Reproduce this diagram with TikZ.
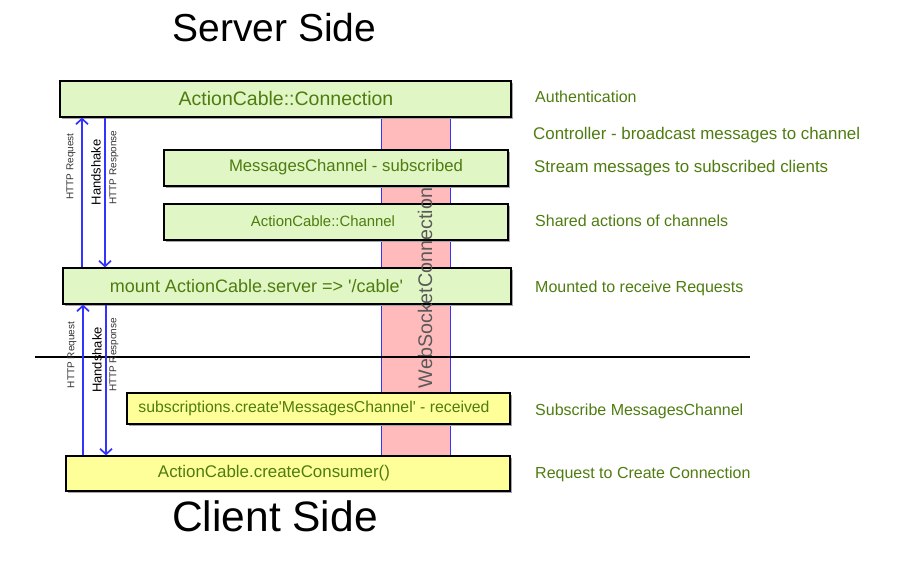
\documentclass[tikz,border=0pt]{standalone}
\usepackage{fontspec}
\setmainfont{Liberation Sans}
\usetikzlibrary{arrows.meta,shadows}
\definecolor{srvgreen}{HTML}{E1F6C5}
\definecolor{cliyellow}{HTML}{FFFF99}
\definecolor{wspink}{HTML}{FFBBBB}
\definecolor{flowblue}{HTML}{3333FF}
\definecolor{txtgreen}{HTML}{4E7C10}
\tikzset{
  box/.style={draw=black, line width=1.2pt, inner sep=0pt, minimum height=36pt,
    general shadow={fill=black!35, shadow xshift=1.5pt, shadow yshift=-1.5pt}},
  srvbox/.style={box, fill=srvgreen},
  clibox/.style={box, fill=cliyellow},
  boxtext/.style={text=txtgreen, inner sep=0pt},
  note/.style={text=txtgreen, anchor=base west, inner sep=0pt, font=\fontsize{16}{18}\selectfont},
  flow/.style={draw=flowblue, line width=1.7pt, -{Straight Barb[length=5.5pt,width=12pt]}},
  flowlabel/.style={rotate=90, inner sep=0pt, text=black!80},
  title/.style={anchor=base, font=\fontsize{39}{42}\selectfont}
}
\begin{document}
\begin{tikzpicture}[x=1pt,y=-1pt]
\useasboundingbox (0,0) rectangle (903,562);
% websocket bar
\node[fill=wspink, minimum width=68pt, minimum height=339pt, inner sep=0pt] (wsbar) at (416,286.5){};
\draw[flowblue, line width=0.8pt] (wsbar.north west) -- (wsbar.south west);
\draw[flowblue, line width=0.8pt] (wsbar.north east) -- (wsbar.south east);
% server side
\node[title] (server) at (274.5,41){Server Side};
\node[srvbox, minimum width=451pt] (conn) at (285.5,99){};
\node[boxtext, font=\fontsize{19.5}{22}\selectfont] (conntxt) at (286,99){ActionCable::Connection};
\node[srvbox, minimum width=344pt] (msgch) at (336,168){};
\node[boxtext, font=\fontsize{16.7}{19}\selectfont] (msgchtxt) at (346,167){MessagesChannel - subscribed};
\node[srvbox, minimum width=344pt] (chan) at (336,222){};
\node[boxtext, font=\fontsize{14.9}{17}\selectfont] (chantxt) at (323,221){ActionCable::Channel};
\node[srvbox, minimum width=448pt] (mount) at (287,286){};
\node[boxtext, font=\fontsize{18}{21}\selectfont] (mounttxt) at (256.5,286){mount ActionCable.server => \textquotesingle/cable\textquotesingle};
% client side
\node[clibox, minimum width=383pt, minimum height=31pt] (subs) at (318.5,408.5){};
\node[boxtext, font=\fontsize{15.8}{18}\selectfont] (substxt) at (314,408){subscriptions.create\textquotesingle MessagesChannel\textquotesingle{} - received};
\node[clibox, minimum width=444pt, minimum height=35pt] (consumer) at (288,473.5){};
\node[boxtext, font=\fontsize{16.9}{19}\selectfont] (consumertxt) at (274,473){ActionCable.createConsumer()};
\node[title, font=\fontsize{42.5}{45}\selectfont] (client) at (275,531){Client Side};
% websocket label
\node[rotate=90, text=black!65, inner sep=0pt, font=\fontsize{19.7}{22}\selectfont] (wstxt) at (425,288){WebSocketConnection};
% separator
\coordinate (sepL) at (35,357);
\coordinate (sepR) at (750,357);
\draw[line width=1.6pt] (sepL) -- (sepR);
% handshake, server
\draw[flow] (mount.north -| 82,0) -- (conn.south -| 82,0);
\draw[flow] (conn.south -| 105,0) -- (mount.north -| 105,0);
\node[flowlabel, font=\fontsize{10}{12}\selectfont] (reqA) at (71,166.5){HTTP Request};
\node[flowlabel, text=black, font=\fontsize{13}{15}\selectfont] (hsA) at (96,172.5){Handshake};
\node[flowlabel, font=\fontsize{10}{12}\selectfont] (resA) at (114,167.5){HTTP Response};
% handshake, client
\draw[flow] (consumer.north -| 83,0) -- (mount.south -| 83,0);
\draw[flow] (mount.south -| 106,0) -- (consumer.north -| 106,0);
\node[flowlabel, font=\fontsize{10}{12}\selectfont] (reqB) at (72,355){HTTP Request};
\node[flowlabel, text=black, font=\fontsize{13}{15}\selectfont] (hsB) at (97,360){Handshake};
\node[flowlabel, font=\fontsize{10}{12}\selectfont] (resB) at (114,355){HTTP Response};
% notes
\node[note] (n1) at (535,102.7){Authentication};
\node[note, font=\fontsize{16.9}{19}\selectfont] (n2) at (533,139.3){Controller - broadcast messages to channel};
\node[note, font=\fontsize{16.9}{19}\selectfont] (n3) at (534,172.7){Stream messages to subscribed clients};
\node[note] (n4) at (535,226.7){Shared actions of channels};
\node[note] (n5) at (535,292.7){Mounted to receive Requests};
\node[note] (n6) at (535,415){Subscribe MessagesChannel};
\node[note] (n7) at (535,478.3){Request to Create Connection};
\end{tikzpicture}
\end{document}
